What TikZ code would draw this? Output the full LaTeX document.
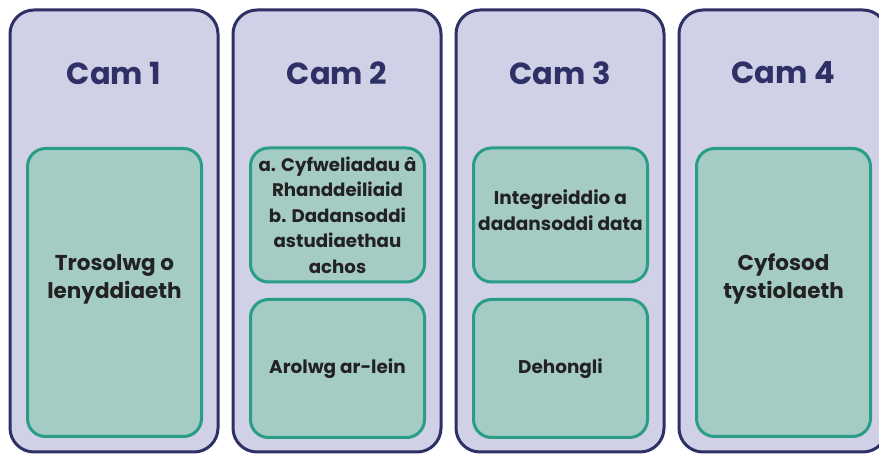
\documentclass[tikz,border=0pt]{standalone}
\usepackage{fontspec}
\setmainfont{Poppins}
\usetikzlibrary{positioning}
\definecolor{camlilac}{HTML}{D0D0E6}
\definecolor{camnavy}{HTML}{2E3066}
\definecolor{stagefill}{HTML}{A5CCC4}
\definecolor{stageline}{HTML}{2A9D87}
\definecolor{stagetext}{HTML}{222222}

\begin{document}
\begin{tikzpicture}[x=1pt,y=-1pt]
                \tikzstyle{every node}=[font=\bfseries]
                \tikzstyle{column} = [draw=camnavy, fill=camlilac, line width=3pt, rounded corners=24pt, minimum width=208pt, minimum height=442pt]
                \tikzstyle{camtitle} = [text=camnavy, font=\bfseries\fontsize{30.5}{36}\selectfont]
                \tikzstyle{stage} = [draw=stageline, fill=stagefill, line width=3pt, rounded corners=18pt, minimum width=174pt, align=center, text=stagetext, font=\bfseries\fontsize{18.4}{28}\selectfont]
                \tikzstyle{tall} = [stage, minimum height=288pt]
                \tikzstyle{stagelabel} = [align=center, text=stagetext, font=\bfseries\fontsize{21.5}{28}\selectfont]

                \clip (0,0) rectangle (879,454);

                \node[column](col1) at (114,231) {};
                \node[column](col2) at (337,231) {};
                \node[column](col3) at (560,231) {};
                \node[column](col4) at (783,231) {};

                \node[camtitle](t1) at (114,73) {Cam 1};
                \node[camtitle](t2) at (337,73) {Cam 2};
                \node[camtitle](t3) at (560,73) {Cam 3};
                \node[camtitle](t4) at (783,73) {Cam 4};

                \node[tall](s1) at (114.5,292.5) {};
                \node[stagelabel](l1) at (114.5,279) {Trosolwg o\\lenyddiaeth};
                \node[stage, minimum height=134pt, font=\bfseries\fontsize{18.2}{25.5}\selectfont](s2a) at (337.5,215) {a. Cyfweliadau â\\Rhanddeiliaid\\b. Dadansoddi\\astudiaethau\\achos};
                \node[stage, minimum height=138pt](s2b) at (337.5,368.5) {Arolwg ar-lein};
                \node[stage, minimum height=134pt, font=\bfseries\fontsize{18.5}{26}\selectfont](s3a) at (560.5,215) {};
                \node[stagelabel, font=\bfseries\fontsize{18.5}{26}\selectfont](l3a) at (560.5,210) {Integreiddio a\\dadansoddi data};
                \node[stage, minimum height=138pt](s3b) at (560.5,368.5) {Dehongli};
                \node[tall](s4) at (783.5,292.5) {};
                \node[stagelabel](l4) at (783.5,279) {Cyfosod\\tystiolaeth};

        \end{tikzpicture}
\end{document}
